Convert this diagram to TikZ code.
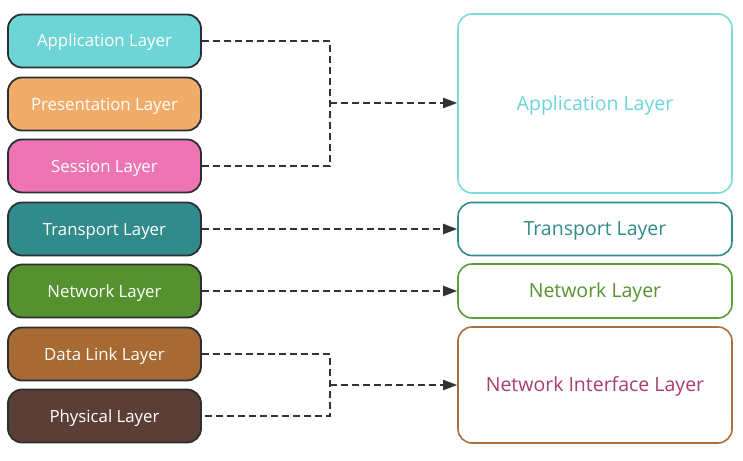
\documentclass[tikz,border=0pt]{standalone}
\usepackage{fontspec}
\setmainfont{Open Sans}
\usetikzlibrary{arrows.meta}
\definecolor{cApp}{HTML}{6DD5D6}
\definecolor{cPres}{HTML}{F2AC6A}
\definecolor{cSess}{HTML}{EE75B4}
\definecolor{cTrans}{HTML}{318B8B}
\definecolor{cNet}{HTML}{55922F}
\definecolor{cData}{HTML}{A66A32}
\definecolor{cPhys}{HTML}{5B3F36}
\definecolor{cEdge}{HTML}{2A2F36}
\definecolor{cAppR}{HTML}{7ED9DE}
\definecolor{cNetR}{HTML}{5E9E36}
\definecolor{cNIL}{HTML}{A8703F}
\definecolor{cNILt}{HTML}{A83D72}
\definecolor{cLine}{HTML}{333333}
\tikzset{
  lbox/.style={draw=cEdge, line width=1.8pt, rounded corners=14pt, minimum width=193pt, minimum height=53pt, inner sep=0pt, text=white, text height=14pt, text depth=2pt, font=\fontsize{16.8}{18}\selectfont},
  rbox/.style={draw=#1, fill=white, line width=1.6pt, rounded corners=14pt, minimum width=274pt, inner sep=0pt, text height=16pt, text depth=2.6pt, font=\fontsize{19.5}{21}\selectfont},
  conn/.style={draw=cLine, line width=2pt, dash pattern=on 7pt off 4pt},
  arr/.style={conn, -{Triangle[length=14pt,width=10pt]}},
}
\begin{document}
\begin{tikzpicture}[x=1pt,y=-1pt]
\useasboundingbox (0,0) rectangle (743,460);
% left column
\node[lbox, fill=cApp]   (app)   at (104.5,41)  {Application Layer};
\node[lbox, fill=cPres]  (pres)  at (104.5,104) {Presentation Layer};
\node[lbox, fill=cSess]  (sess)  at (104.5,166) {Session Layer};
\node[lbox, fill=cTrans] (trans) at (104.5,229) {Transport Layer};
\node[lbox, fill=cNet]   (net)   at (104.5,291) {Network Layer};
\node[lbox, fill=cData]  (data)  at (104.5,354) {Data Link Layer};
\node[lbox, fill=cPhys]  (phys)  at (104.5,416) {Physical Layer};
% right column
\node[rbox=cAppR, minimum height=179pt, text=cApp] (rapp) at (595,103.5) {Application Layer};
\node[rbox=cTrans, minimum height=53pt, text=cTrans] (rtrans) at (595,229) {Transport Layer};
\node[rbox=cNetR, minimum height=54pt, text=cNet] (rnet) at (595,291) {Network Layer};
\node[rbox=cNIL, minimum height=116pt, text=cNILt] (rnil) at (595,385) {Network Interface Layer};
% junctions
\coordinate (j1) at (330,103);
\coordinate (j2) at (330,385);
% connectors
\draw[conn] (app.east) -- (330,41) -- (330,166) -- (sess.east);
\draw[arr] (j1) -- (rapp.west |- j1);
\draw[arr] (trans.east) -- (rtrans.west |- trans.east);
\draw[arr] (net.east) -- (rnet.west |- net.east);
\draw[conn] (data.east) -- (330,354) -- (330,416) -- (phys.east);
\draw[arr] (j2) -- (rnil.west |- j2);
\end{tikzpicture}
\end{document}
